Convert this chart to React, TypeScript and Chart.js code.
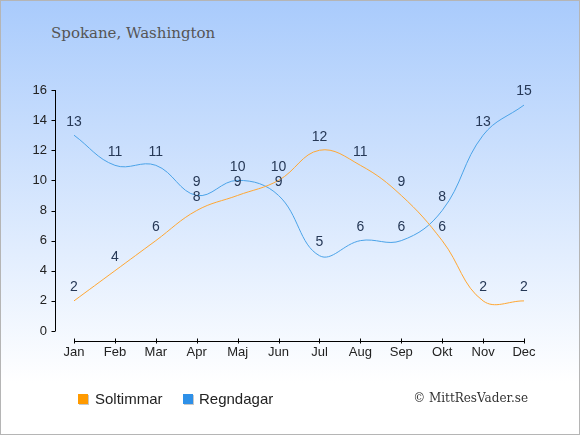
import { useEffect, useRef } from "react";
import { Chart, registerables } from "chart.js";

Chart.register(...registerables);

const months = ["Jan", "Feb", "Mar", "Apr", "Maj", "Jun", "Jul", "Aug", "Sep", "Okt", "Nov", "Dec"];
const soltimmar = [2, 4, 6, 8, 9, 10, 12, 11, 9, 6, 2, 2];
const regndagar = [13, 11, 11, 9, 10, 9, 5, 6, 6, 8, 13, 15];
const yTicks = [0, 2, 4, 6, 8, 10, 12, 14, 16];

const ORANGE = "#ffa733";
const BLUE = "#4ba3e8";

// axis lines sit a little away from the plot, so draw them by hand
const axesAndLabels = {
  id: "axesAndLabels",
  afterDraw(chart: any) {
    const { ctx, chartArea, scales } = chart;
    const x = scales.x;
    const y = scales.y;
    ctx.save();
    ctx.strokeStyle = "#000";
    ctx.lineWidth = 1;

    const ax = Math.round(chartArea.left - 19) + 0.5;
    ctx.beginPath();
    ctx.moveTo(ax, y.getPixelForValue(16));
    ctx.lineTo(ax, y.getPixelForValue(0));
    yTicks.forEach((t) => {
      const py = Math.round(y.getPixelForValue(t)) + 0.5;
      ctx.moveTo(ax - 4, py);
      ctx.lineTo(ax, py);
    });
    ctx.stroke();

    const ay = Math.round(chartArea.bottom + 10) + 0.5;
    ctx.beginPath();
    ctx.moveTo(x.getPixelForValue(0), ay);
    ctx.lineTo(x.getPixelForValue(months.length - 1), ay);
    months.forEach((_, i) => {
      const px = Math.round(x.getPixelForValue(i)) + 0.5;
      ctx.moveTo(px, ay - 3);
      ctx.lineTo(px, ay + 2);
    });
    ctx.stroke();

    ctx.fillStyle = "#263856";
    ctx.font = "14px 'Liberation Sans', Arial, sans-serif";
    ctx.textAlign = "center";
    ctx.textBaseline = "middle";
    chart.data.datasets.forEach((ds: any, di: number) => {
      const meta = chart.getDatasetMeta(di);
      meta.data.forEach((pt: any, i: number) => {
        ctx.fillText(String(ds.data[i]), pt.x, pt.y - 13.5);
      });
    });
    ctx.restore();
  },
};

const ClimateChart = () => {
  const canvasRef = useRef<HTMLCanvasElement>(null);

  useEffect(() => {
    if (!canvasRef.current) return;
    const chart = new Chart(canvasRef.current, {
      type: "line",
      data: {
        labels: months,
        datasets: [
          {
            label: "Soltimmar",
            data: soltimmar,
            borderColor: ORANGE,
            borderWidth: 1,
            pointRadius: 0,
            tension: 0.4,
            fill: false,
          },
          {
            label: "Regndagar",
            data: regndagar,
            borderColor: BLUE,
            borderWidth: 1,
            pointRadius: 0,
            tension: 0.4,
            fill: false,
          },
        ],
      },
      options: {
        responsive: false,
        animation: false,
        layout: { padding: { top: 90, right: 56, left: 0, bottom: 0 } },
        plugins: {
          legend: { display: false },
          title: { display: false },
          tooltip: { enabled: false },
        },
        scales: {
          x: {
            grid: { display: false },
            border: { display: false },
            ticks: {
              color: "#222",
              padding: 6,
              font: { size: 13, family: "'Liberation Sans', Arial, sans-serif" },
            },
            afterFit: (s: any) => {
              s.height = 104;
            },
          },
          y: {
            min: 0,
            max: 16,
            grid: { display: false },
            border: { display: false },
            ticks: {
              stepSize: 2,
              color: "#222",
              padding: 19,
              font: { size: 13, family: "'Liberation Sans', Arial, sans-serif" },
            },
            afterFit: (s: any) => {
              s.width = 74;
            },
          },
        },
      },
      plugins: [axesAndLabels],
    });
    return () => chart.destroy();
  }, []);

  return <canvas ref={canvasRef} width={580} height={435} style={{ position: "absolute", left: 0, top: 0 }} />;
};

const legendBox = (color: string) => ({
  position: "absolute" as const,
  top: 394,
  width: 10,
  height: 10,
  background: color,
  boxShadow: "1px 1px 0 #c8c8c8",
});

const legendText = {
  position: "absolute" as const,
  top: 389,
  fontSize: 15,
  lineHeight: "20px",
  color: "#222",
  fontFamily: "'Liberation Sans', Arial, sans-serif",
};

export default function App() {
  return (
    <div
      style={{
        position: "fixed",
        left: 0,
        top: 0,
        width: 580,
        height: 435,
        background: "linear-gradient(to bottom, #a9cbfc 0%, #ffffff 88%)",
        boxShadow: "inset 0 0 0 1px #b5b5b5",
        overflow: "hidden",
      }}
    >
      <div
        style={{
          position: "absolute",
          left: 51,
          top: 23,
          fontFamily: "'DejaVu Serif', Georgia, serif",
          fontSize: 15,
          lineHeight: "20px",
          color: "#555",
        }}
      >
        Spokane, Washington
      </div>
      <ClimateChart />
      <div style={{ ...legendBox("#ff9a00"), left: 78 }} />
      <div style={{ ...legendText, left: 95 }}>Soltimmar</div>
      <div style={{ ...legendBox("#2e90e8"), left: 183 }} />
      <div style={{ ...legendText, left: 199 }}>Regndagar</div>
      <div
        style={{
          position: "absolute",
          right: 52,
          top: 389,
          fontFamily: "'DejaVu Serif', Georgia, serif",
          fontSize: 12,
          lineHeight: "18px",
          color: "#333",
        }}
      >
        © MittResVader.se
      </div>
    </div>
  );
}
